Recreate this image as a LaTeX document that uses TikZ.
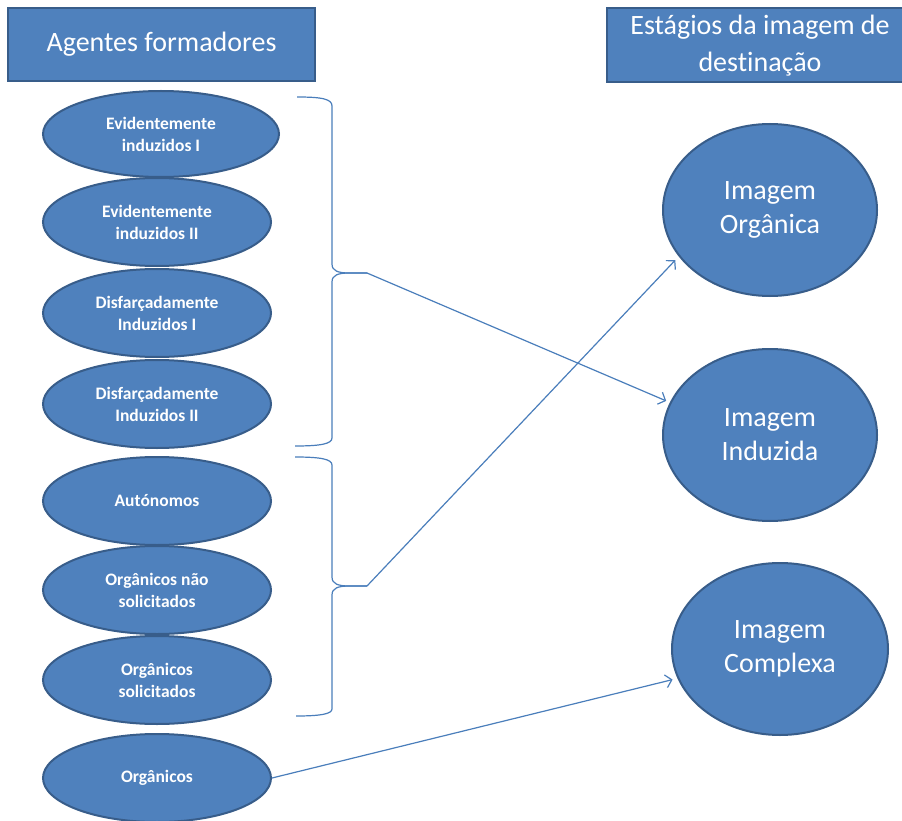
\documentclass[tikz,border=0pt]{standalone}
\usepackage{fontspec}
\setmainfont{Carlito}[Ligatures={NoCommon,NoContextual}]
\usetikzlibrary{shapes.geometric,arrows.meta}
\definecolor{fillblue}{HTML}{4F81BD}
\definecolor{edgeblue}{HTML}{385D8A}
\definecolor{linkblue}{HTML}{4A7EBB}
\begin{document}
\begin{tikzpicture}[x=1pt,y=-1pt,
  header/.style={rectangle,draw=edgeblue,fill=fillblue,line width=2pt,text=white,
    font=\fontsize{28}{37}\selectfont,align=center,inner sep=0pt},
  agent/.style={ellipse,draw=edgeblue,fill=fillblue,line width=2pt,text=white,
    font=\bfseries\fontsize{17.5}{22}\selectfont,align=center,
    minimum width=228pt,minimum height=88pt,inner sep=0pt},
  stage/.style={ellipse,draw=edgeblue,fill=fillblue,line width=2pt,text=white,
    font=\fontsize{28}{34}\selectfont,align=center,
    minimum width=214pt,minimum height=172pt,inner sep=0pt},
  link/.style={draw=linkblue,line width=1.2pt,-{Straight Barb[length=6pt,width=13pt]}},
  bracestyle/.style={draw=linkblue,line width=1.2pt}
]
\clip (0,0) rectangle (902,821);
\fill[white] (0,0) rectangle (902,821);

% headers
\node[header,minimum width=307pt,minimum height=73pt] (h1) at (161.5,44.5) {Agentes formadores};
\node[header,minimum width=306pt,minimum height=74pt] (h2) at (760,45.5) {Estágios da imagem de\\destinação};

% agents
\node[agent,minimum width=236pt,minimum height=86pt] (a1) at (161,134) {Evidentemente\\induzidos I};
\node[agent] (a2) at (157,222) {Evidentemente\\induzidos II};
\node[agent] (a3) at (157,313) {Disfarçadamente\\Induzidos I};
\node[agent] (a4) at (157,404) {Disfarçadamente\\Induzidos II};
\node[agent] (a5) at (157,501) {Autónomos};
\node[agent] (a6) at (157,590) {Orgânicos não\\solicitados};
\node[agent] (a7) at (157,680) {Orgânicos\\solicitados};
\node[agent] (a8) at (157,778) {Orgânicos};

% stages
\node[stage] (org) at (770,210) {Imagem\\Orgânica};
\node[stage] (ind) at (770,435) {Imagem\\Induzida};
\node[stage,minimum width=216pt] (cpx) at (780,649) {Imagem\\Complexa};

% braces
\coordinate (b1) at (367,273);
\coordinate (b2) at (367,586);
\draw[bracestyle] (297,97) .. controls (322,97) and (332,99) .. (332,106)
  -- (332,264) .. controls (332,271) and (338,273) .. (350,273) -- (b1);
\draw[bracestyle] (b1) -- (350,273) .. controls (338,273) and (332,275) .. (332,282)
  -- (332,438) .. controls (332,444) and (320,446) .. (295,446);
\draw[bracestyle] (295,457) .. controls (320,457) and (332,459) .. (332,465)
  -- (332,577) .. controls (332,584) and (338,586) .. (350,586) -- (b2);
\draw[bracestyle] (b2) -- (350,586) .. controls (338,586) and (332,588) .. (332,595)
  -- (332,709) .. controls (332,714) and (320,716) .. (296,716);

% connectors
\draw[link,shorten >=4pt] (b1) -- (ind.162);
\draw[link,shorten >=5pt] (b2) -- (org.207);
\draw[link,shorten >=5pt] (a8.east) -- (cpx.196);
\end{tikzpicture}
\end{document}
